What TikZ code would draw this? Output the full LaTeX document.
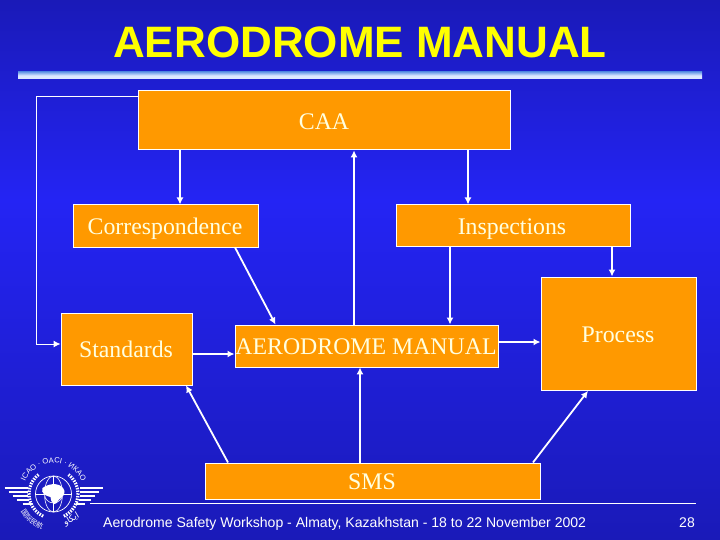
\documentclass[tikz,border=0pt]{standalone}
\usepackage{fontspec}
\setmainfont{Liberation Serif}
\setsansfont{Liberation Sans}
\newfontfamily\cjkf{Noto Sans CJK SC}
\newfontfamily\arabicfont[Script=Arabic]{DejaVu Sans}
\TeXXeTstate=1
\usetikzlibrary{arrows.meta,decorations.text}
\definecolor{boxor}{HTML}{FF9900}
\definecolor{bgtop}{HTML}{1A1AB8}
\definecolor{bgmid}{HTML}{2424F4}
\definecolor{ttl}{HTML}{FFFF00}
\definecolor{boxtxt}{HTML}{FFFFE0}
\definecolor{baredge}{HTML}{6C9CE8}
\definecolor{barmid}{HTML}{DCE8FF}
\tikzset{
  boxn/.style={draw=white,line width=0.9pt,fill=boxor,inner sep=0pt,anchor=north west},
  boxt/.style={font=\fontsize{23.8}{26}\selectfont,text=boxtxt,inner sep=0pt,anchor=base},
  conn/.style={draw=white,line width=1.8pt,-{Latex[length=7pt,width=7pt]}},
  thinc/.style={draw=white,line width=1.4pt,-{Latex[length=7pt,width=7pt]}},
  loopc/.style={draw=white,line width=1pt,-{Latex[length=7pt,width=7pt]}},
}
\begin{document}
\begin{tikzpicture}[x=1pt,y=-1pt]
\useasboundingbox (0,0) rectangle (720,540);
\shade[top color=bgtop,bottom color=bgmid] (0,0) rectangle (720,200);
\shade[top color=bgmid,bottom color=bgtop] (0,200) rectangle (720,540);
% title
\node[font=\sffamily\bfseries\fontsize{44}{50}\selectfont,text=ttl,inner sep=0pt,anchor=base] (title) at (360,58) {AERODROME MANUAL};
\shade[top color=baredge,bottom color=barmid,middle color=barmid] (18,72) rectangle (702,79);
% boxes
\coordinate (fb) at (36.5,97);
\coordinate (fc) at (36.5,344);
\node[boxn,minimum width=372pt,minimum height=59pt] (caa) at (138,90.5) {};
\node[boxn,minimum width=185pt,minimum height=42pt] (corr) at (73,204.5) {};
\node[boxn,minimum width=234pt,minimum height=41pt] (insp) at (396,204.5) {};
\node[boxn,minimum width=131.5pt,minimum height=72pt] (std) at (60.5,312.5) {};
\node[boxn,minimum width=263.5pt,minimum height=42pt] (man) at (234.5,324.5) {};
\node[boxn,minimum width=155.5pt,minimum height=113.5pt] (proc) at (540.5,276.5) {};
\node[boxn,minimum width=335.5pt,minimum height=36pt] (sms) at (204.5,462.5) {};
% labels
\node[boxt] (caat) at (324,130) {CAA};
\node[boxt] (corrt) at (165,234) {Correspondence};
\node[boxt] (inspt) at (512,234) {Inspections};
\node[boxt] (stdt) at (126,357) {Standards};
\node[boxt] (mant) at (366,354) {AERODROME MANUAL};
\node[boxt] (proct) at (618,342) {Process};
\node[boxt] (smst) at (372,489) {SMS};
% connectors
\draw[loopc] (caa.west |- fb) -- (fb) -- (fc) -- (std.west |- fc);
\draw[thinc] (caa.south -| 180,0) -- (corr.north -| 180,0);
\draw[thinc] (caa.south -| 468,0) -- (insp.north -| 468,0);
\draw[conn] (man.north -| 354,0) -- (caa.south -| 354,0);
\draw[conn] (corr.south -| 235,0) -- (man.north -| 275.5,0);
\draw[thinc] (insp.south -| 450,0) -- (man.north -| 450,0);
\draw[thinc] (insp.south -| 612,0) -- (proc.north -| 612,0);
\draw[conn] (std.east |- 0,354) -- (man.west |- 0,354);
\draw[conn] (man.east |- 0,342) -- (proc.west |- 0,342);
\draw[conn] (sms.north -| 360,0) -- (man.south -| 360,0);
\draw[conn] (sms.north -| 228,0) -- (std.south -| 186,0);
\draw[conn] (sms.north -| 533,0) -- (proc.south -| 588,0);
% footer
\draw[white,line width=1.2pt] (90,503.5) -- (696,503.5);
\node[font=\sffamily\fontsize{14.05}{16}\selectfont,text=white,anchor=base west,inner sep=0pt] (foot) at (103,527) {Aerodrome Safety Workshop - Almaty, Kazakhstan - 18 to 22 November 2002};
\node[font=\sffamily\fontsize{14}{16}\selectfont,text=white,anchor=base,inner sep=0pt] (pg) at (687,527) {28};
% logo (y up inside)
\begin{scope}[shift={(53.5,494)},y=1pt]
  \foreach \yy/\xa/\xb in {6/49/26,2/45/26,-2/41/26,-6/37/25,-10/31/22}{
    \draw[white,line width=2.4pt] (-\xa,\yy) -- (-\xb,\yy);
    \draw[white,line width=2.4pt] (\xa,\yy) -- (\xb,\yy);
  }
  \draw[white,line width=3.2pt,dash pattern=on 1.5pt off 1.2pt] (245:24.5) arc (245:125:24.5);
  \draw[white,line width=3.2pt,dash pattern=on 1.5pt off 1.2pt] (-65:24.5) arc (-65:55:24.5);
  \draw[white,line width=0.7pt] (0,0) circle (18);
  \draw[white,line width=0.6pt] (0,-18) -- (0,18) (-18,0) -- (18,0);
  \draw[white,line width=0.6pt] (0,0) ellipse (9 and 18) (0,0) circle (9);
  \fill[white] (-11,6) .. controls (-3,12) and (9,11) .. (11,3) .. controls (12,-3) and (6,-3) .. (3,-9) .. controls (1,-12) and (-3,-8) .. (-3,-3) .. controls (-8,-2) and (-13,1) .. (-11,6);
  \path[decorate,decoration={text along path,text align=center,text={|\sffamily\fontsize{7.6}{8}\selectfont\color{white}|ICAO · OACI · ИКАО}}] (160:31) arc (160:20:31);
  \path[decorate,decoration={text along path,text align=center,text={|\cjkf\fontsize{7}{8}\selectfont\color{white}|国际民航}}] (195:37) arc (195:265:37);
  \node[font=\arabicfont\fontsize{9}{10}\selectfont,text=white,rotate=30,inner sep=0pt] (lgar) at (-55:31) {\beginR ايكاو\endR};
\end{scope}
\end{tikzpicture}
\end{document}
